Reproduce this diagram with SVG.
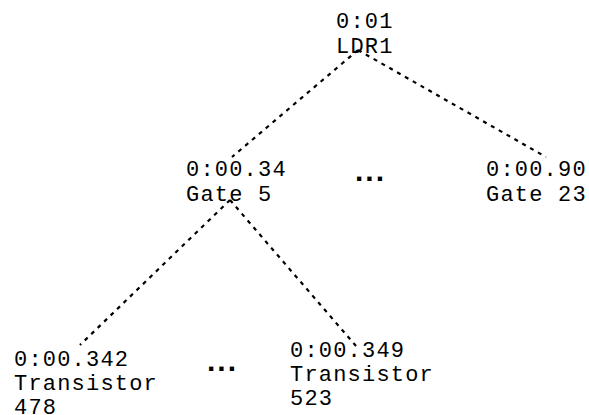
<svg xmlns="http://www.w3.org/2000/svg" width="589" height="415" viewBox="0 0 589 415">
  <style>
    .lbl { font-family: "Liberation Mono", "Courier New", monospace; font-size: 22px; letter-spacing: 1.2px; fill: #000; }
    .edge { stroke: #000; stroke-width: 2.2; stroke-dasharray: 4 5; fill: none; }
    .more { font-family: "Liberation Sans", Arial, sans-serif; font-weight: bold; font-size: 30px; letter-spacing: 2px; fill: #000; }
  </style>
  <rect width="589" height="415" fill="#fff"/>
  <g id="connectors">
    <line class="edge" x1="358" y1="50" x2="232" y2="157"/>
    <line class="edge" x1="358" y1="50" x2="546" y2="157"/>
    <line class="edge" x1="230" y1="200" x2="80" y2="345"/>
    <line class="edge" x1="230" y1="200" x2="356" y2="346"/>
  </g>
  <g id="node-ldr1">
    <text class="lbl" x="336" y="28">0:01</text>
    <text class="lbl" x="336" y="53">LDR1</text>
  </g>
  <g id="node-gate5">
    <text class="lbl" x="186" y="176">0:00.34</text>
    <text class="lbl" x="186" y="201">Gate 5</text>
  </g>
  <g id="node-gate23">
    <text class="lbl" x="486" y="176">0:00.90</text>
    <text class="lbl" x="486" y="201">Gate 23</text>
  </g>
  <g id="node-transistor478">
    <text class="lbl" x="14" y="366">0:00.342</text>
    <text class="lbl" x="14" y="390">Transistor</text>
    <text class="lbl" x="14" y="414">478</text>
  </g>
  <g id="node-transistor523">
    <text class="lbl" x="290" y="357">0:00.349</text>
    <text class="lbl" x="290" y="381">Transistor</text>
    <text class="lbl" x="290" y="405">523</text>
  </g>
  <g id="ellipsis-gates">
    <text class="more" x="355" y="181">...</text>
  </g>
  <g id="ellipsis-transistors">
    <text class="more" x="207" y="371">...</text>
  </g>
</svg>
